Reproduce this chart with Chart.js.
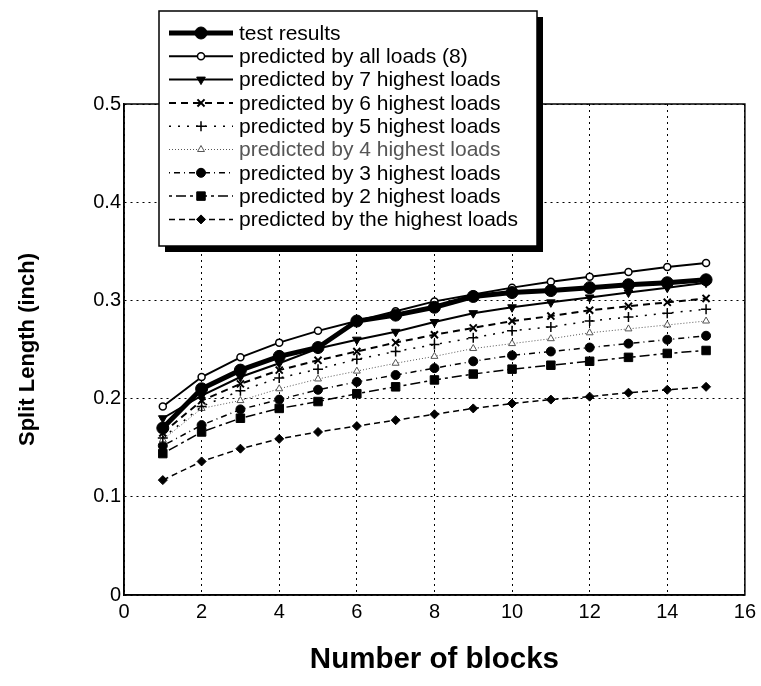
<!DOCTYPE html>
<html lang="en">
<head>
  <meta charset="UTF-8">
  <title>Split Length vs Number of blocks</title>
  <script src="https://cdn.jsdelivr.net/npm/chart.js"></script>
  <style>
    html, body { margin: 0; padding: 0; background: #fff; }
    #wrap { width: 761px; height: 686px; }
  </style>
</head>
<body>
  <div id="wrap"><canvas id="splitChart" width="761" height="686"></canvas></div>

  <script>
    // values
    const blocks = [1, 2, 3, 4, 5, 6, 7, 8, 9, 10, 11, 12, 13, 14, 15];
    const xTicks = [0, 2, 4, 6, 8, 10, 12, 14, 16];
    const yTicks = [0, 0.1, 0.2, 0.3, 0.4, 0.5];

    const testResults = [0.170, 0.210, 0.229, 0.243, 0.252, 0.279, 0.285, 0.293, 0.304, 0.308, 0.310, 0.313, 0.316, 0.318, 0.321];
    const predAll     = [0.192, 0.222, 0.242, 0.257, 0.269, 0.279, 0.289, 0.299, 0.306, 0.313, 0.319, 0.324, 0.329, 0.334, 0.338];
    const pred7       = [0.180, 0.203, 0.222, 0.236, 0.251, 0.260, 0.268, 0.278, 0.287, 0.293, 0.298, 0.303, 0.308, 0.313, 0.318];
    const pred6       = [0.165, 0.198, 0.215, 0.229, 0.239, 0.248, 0.257, 0.265, 0.272, 0.279, 0.284, 0.290, 0.294, 0.298, 0.302];
    const pred5       = [0.160, 0.192, 0.208, 0.221, 0.230, 0.240, 0.248, 0.255, 0.262, 0.269, 0.273, 0.279, 0.283, 0.287, 0.291];
    const pred4       = [0.158, 0.190, 0.198, 0.210, 0.220, 0.228, 0.236, 0.243, 0.251, 0.256, 0.261, 0.267, 0.271, 0.275, 0.279];
    const pred3       = [0.152, 0.173, 0.189, 0.199, 0.209, 0.217, 0.224, 0.231, 0.238, 0.244, 0.248, 0.252, 0.256, 0.260, 0.264];
    const pred2       = [0.144, 0.166, 0.180, 0.190, 0.197, 0.205, 0.212, 0.219, 0.225, 0.230, 0.234, 0.238, 0.242, 0.246, 0.249];
    const pred1       = [0.117, 0.136, 0.149, 0.159, 0.166, 0.172, 0.178, 0.184, 0.190, 0.195, 0.199, 0.202, 0.206, 0.209, 0.212];

    const seriesNames = [
      'test results',
      'predicted by all loads (8)',
      'predicted by 7 highest loads',
      'predicted by 6 highest loads',
      'predicted by 5 highest loads',
      'predicted by 4 highest loads',
      'predicted by 3 highest loads',
      'predicted by 2 highest loads',
      'predicted by the highest loads'
    ];
    const seriesValues = [testResults, predAll, pred7, pred6, pred5, pred4, pred3, pred2, pred1];

    // line / marker look for each series, same order as seriesNames
    const looks = [
      { w: 5,   dash: [],            pt: 'circle',   r: 6,   fill: '#000', col: '#000', pw: 1 },
      { w: 2,   dash: [],            pt: 'circle',   r: 3.5, fill: '#fff', col: '#000', pw: 1.5 },
      { w: 2,   dash: [],            pt: 'triangle', r: 5,   fill: '#000', col: '#000', pw: 1, rot: 180 },
      { w: 2,   dash: [7, 5],        pt: 'crossRot', r: 5,   fill: '#000', col: '#000', pw: 2 },
      { w: 1.5, dash: [2, 7],        pt: 'cross',    r: 5,   fill: '#000', col: '#000', pw: 1.5 },
      { w: 1,   dash: [1, 2],        pt: 'triangle', r: 4,   fill: '#fff', col: '#555', pw: 1 },
      { w: 1.5, dash: [1, 4, 6, 4],  pt: 'circle',   r: 4.5, fill: '#000', col: '#000', pw: 1 },
      { w: 1.5, dash: [3, 4, 10, 4], pt: 'rect',     r: 6,   fill: '#000', col: '#000', pw: 1 },
      { w: 1.5, dash: [6, 4],        pt: 'rectRot',  r: 4.5, fill: '#000', col: '#000', pw: 1 }
    ];

    const FONT = '"Liberation Sans", Arial, Helvetica, sans-serif';

    const datasets = seriesNames.map((name, i) => {
      const lk = looks[i];
      return {
        label: name,
        data: blocks.map((b, j) => ({ x: b, y: seriesValues[i][j] })),
        borderColor: lk.col,
        borderWidth: lk.w,
        borderDash: lk.dash,
        backgroundColor: lk.fill,
        pointStyle: lk.pt,
        pointRadius: lk.r,
        pointRotation: lk.rot || 0,
        pointBorderWidth: lk.pw,
        pointBorderColor: lk.col,
        pointBackgroundColor: lk.fill,
        fill: false,
        tension: 0
      };
    });

    // solid box around the plot area
    const frame = {
      id: 'frame',
      afterDatasetsDraw(chart) {
        const { ctx, chartArea: a } = chart;
        ctx.save();
        ctx.strokeStyle = '#000';
        ctx.lineWidth = 1.5;
        ctx.setLineDash([]);
        ctx.strokeRect(a.left, a.top, a.right - a.left, a.bottom - a.top);
        ctx.restore();
      }
    };

    // boxed legend with drop shadow, drawn from the datasets
    const boxLegend = {
      id: 'boxLegend',
      afterDraw(chart) {
        const ctx = chart.ctx;
        const bx = 159, by = 11, bw = 378, bh = 235, sh = 6;
        ctx.save();
        ctx.fillStyle = '#000';
        ctx.fillRect(bx + sh, by + sh, bw, bh);
        ctx.fillStyle = '#fff';
        ctx.fillRect(bx, by, bw, bh);
        ctx.strokeStyle = '#000';
        ctx.lineWidth = 1.5;
        ctx.strokeRect(bx, by, bw, bh);

        ctx.font = '21px ' + FONT;
        ctx.textBaseline = 'middle';
        chart.data.datasets.forEach((ds, i) => {
          const y = by + 22 + i * 23.3;
          const x1 = bx + 10, x2 = bx + 74;
          ctx.strokeStyle = ds.borderColor;
          ctx.lineWidth = ds.borderWidth;
          ctx.setLineDash(ds.borderDash);
          ctx.beginPath();
          ctx.moveTo(x1, y);
          ctx.lineTo(x2, y);
          ctx.stroke();
          ctx.setLineDash([]);
          ctx.fillStyle = ds.pointBackgroundColor;
          ctx.strokeStyle = ds.pointBorderColor;
          ctx.lineWidth = ds.pointBorderWidth;
          Chart.helpers.drawPoint(ctx, {
            pointStyle: ds.pointStyle,
            radius: ds.pointRadius,
            rotation: ds.pointRotation,
            borderWidth: ds.pointBorderWidth
          }, (x1 + x2) / 2, y);
          ctx.fillStyle = i === 5 ? '#555' : '#000';
          ctx.fillText(ds.label, x2 + 6, y + 1);
        });
        ctx.restore();
      }
    };

    new Chart(document.getElementById('splitChart'), {
      type: 'line',
      data: { datasets },
      plugins: [frame, boxLegend],
      options: {
        responsive: false,
        animation: false,
        layout: { padding: { left: 0, top: 104, right: 11, bottom: 0 } },
        plugins: {
          legend: { display: false },
          tooltip: { enabled: false }
        },
        scales: {
          x: {
            type: 'linear',
            min: 0,
            max: 16,
            afterBuildTicks: s => { s.ticks = xTicks.map(v => ({ value: v })); },
            afterFit: s => { s.height = 91; },
            ticks: { color: '#000', font: { family: FONT, size: 20 }, padding: 5, maxRotation: 0 },
            grid: { color: '#000', lineWidth: 1, drawTicks: false },
            border: { display: true, color: '#000', width: 1.5, dash: [2, 4] },
            title: {
              display: true,
              text: 'Number of blocks',
              color: '#000',
              font: { family: FONT, size: 29.5, weight: 'bold' },
              padding: { top: 0, bottom: 8 }
            }
          },
          y: {
            type: 'linear',
            min: 0,
            max: 0.5,
            afterBuildTicks: s => { s.ticks = yTicks.map(v => ({ value: v })); },
            afterFit: s => { s.width = 124; },
            ticks: {
              color: '#000',
              font: { family: FONT, size: 20 },
              padding: 3,
              callback: v => String(Math.round(v * 10) / 10)
            },
            grid: { color: '#000', lineWidth: 1, drawTicks: false },
            border: { display: true, color: '#000', width: 1.5, dash: [2, 4] },
            title: {
              display: true,
              text: 'Split Length (inch)',
              color: '#000',
              font: { family: FONT, size: 22, weight: 'bold' },
              padding: { top: 15, bottom: 0 }
            }
          }
        }
      }
    });
  </script>
</body>
</html>
